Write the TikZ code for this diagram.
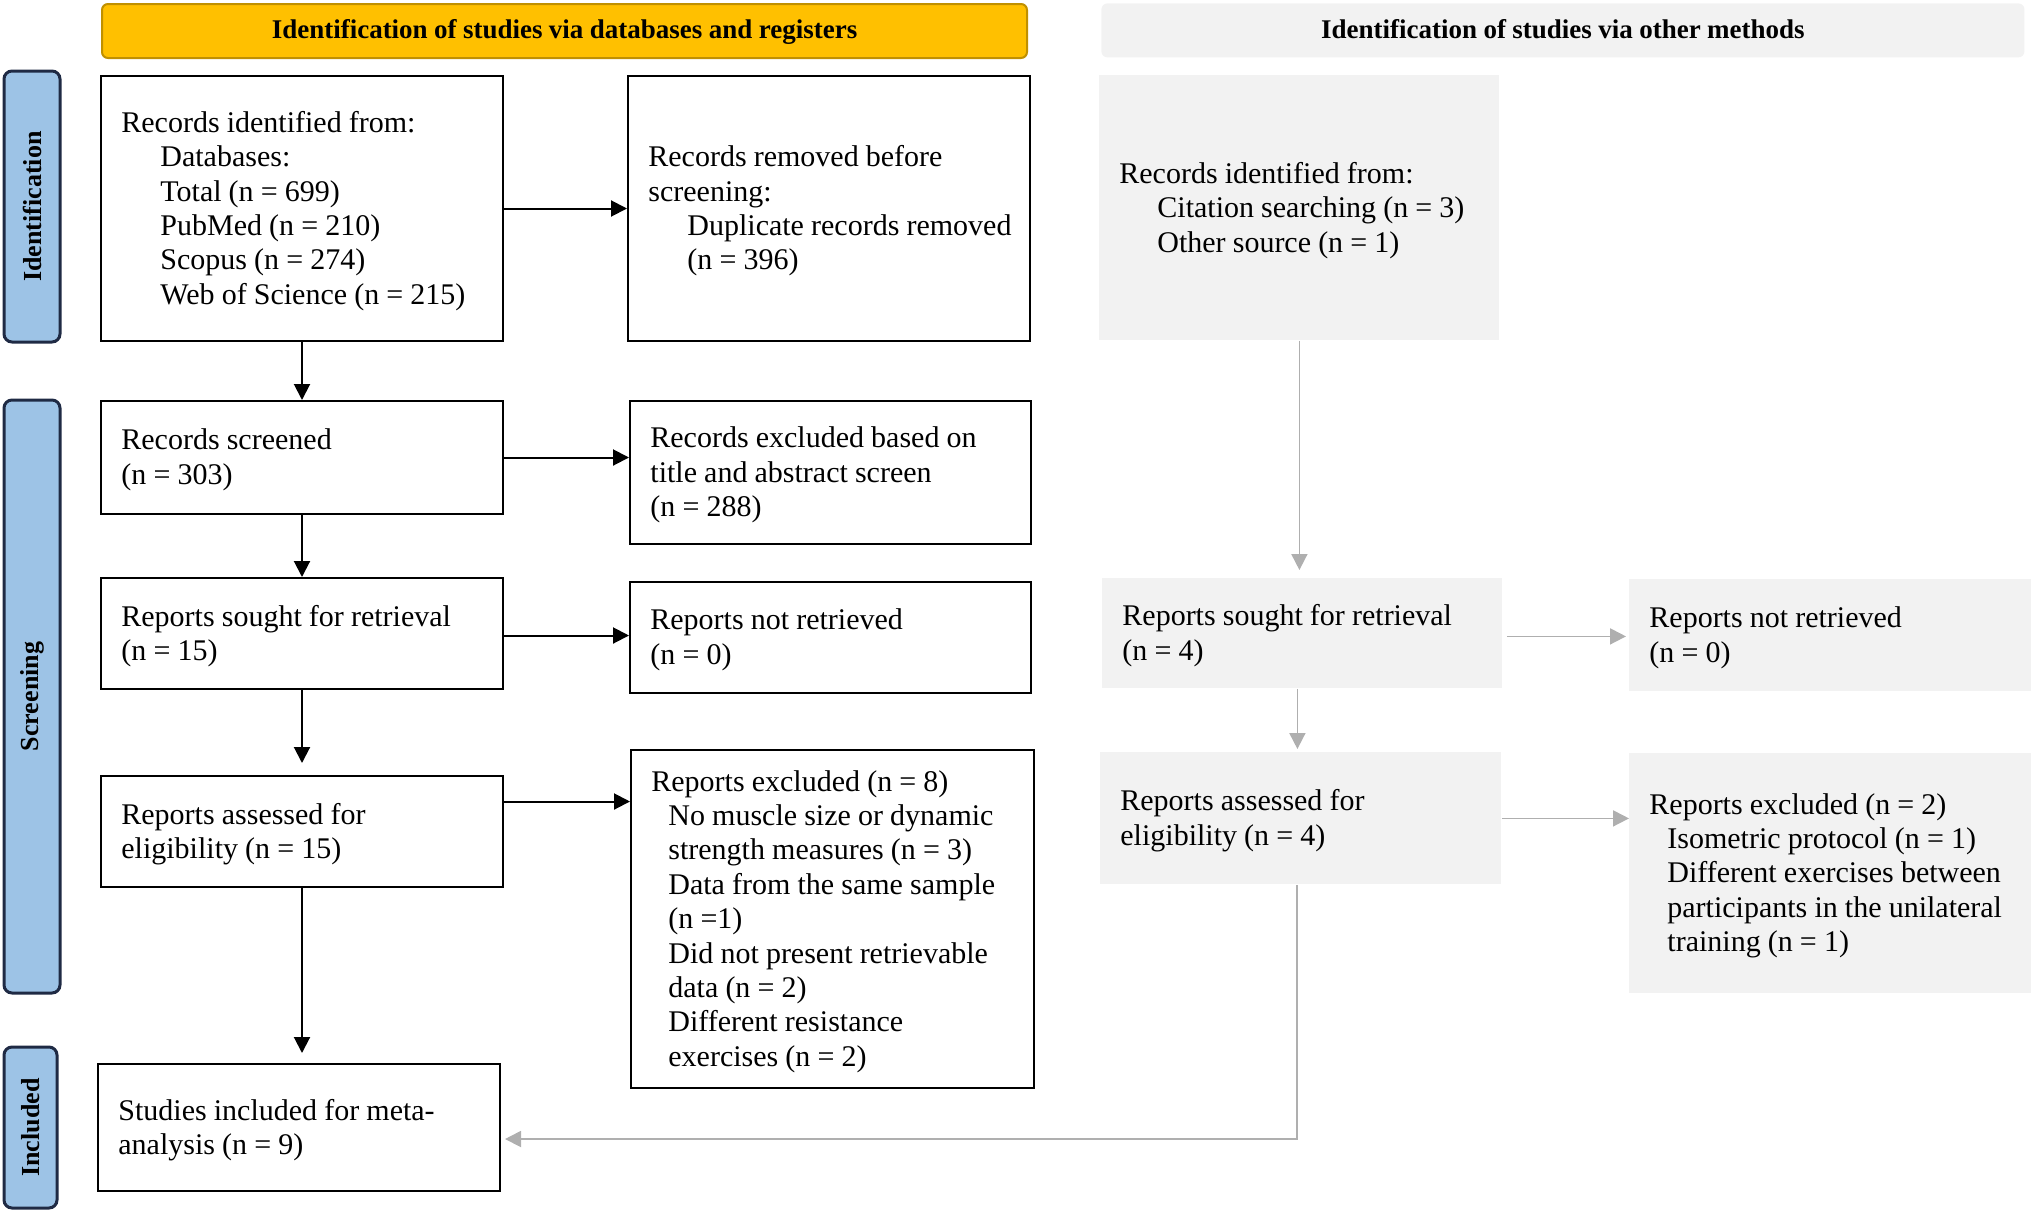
\documentclass[tikz,border=0pt]{standalone}
\usepackage{fontspec}
\setmainfont[WordSpace=0.95]{Liberation Serif}
\usetikzlibrary{arrows.meta,calc}
\definecolor{hdryellow}{HTML}{FFC000}
\definecolor{hdrborder}{HTML}{C09000}
\definecolor{sideblue}{HTML}{9DC3E6}
\definecolor{sideborder}{HTML}{1F2A44}
\definecolor{boxgrey}{HTML}{F2F2F2}
\definecolor{arrgrey}{HTML}{AFAFAF}
\begin{document}
\begin{tikzpicture}[x=0.5pt,y=-0.5pt,
  lab/.style={font=\fontsize{15}{17.2}\selectfont, align=left, anchor=west, inner sep=0pt, yshift=-1.2pt},
  lbox/.style={draw=black, line width=1pt, anchor=north west, inner sep=0pt},
  gbox/.style={fill=boxgrey, anchor=north west, inner sep=0pt},
  hdr/.style={font=\fontsize{13.5}{15}\selectfont\bfseries, anchor=north west, rounded corners=3pt, minimum height=27pt, inner sep=0pt, text height=10pt, text depth=2pt},
  side/.style={font=\fontsize{13}{15}\selectfont\bfseries, fill=sideblue, draw=sideborder, line width=1.5pt, rounded corners=4pt, rotate=90, inner sep=0pt},
  arr/.style={draw=black, line width=1pt, -{Triangle[length=8pt,width=8pt]}},
  garr/.style={draw=arrgrey, line width=0.9pt, -{Triangle[length=8pt,width=8pt]}}
]
\useasboundingbox (0,0) rectangle (2032,1210);

% headers
\node[hdr, fill=hdryellow, draw=hdrborder, line width=1pt, minimum width=462.5pt] (H1) at (101,3) {Identification of studies via databases and registers};
\node[hdr, fill=boxgrey, minimum width=461.5pt] (H2) at (1101,3) {Identification of studies via other methods};

% side labels
\node[side, minimum width=135.5pt, minimum height=28pt] (S1) at (32,206.5) {Identification};
\node[side, minimum width=296.5pt, minimum height=28pt] (S2) at (32,696.5) {Screening};
\node[side, minimum width=80.5pt, minimum height=26.5pt] (S3) at (30.5,1127.5) {Included};

% left column boxes
\node[lbox, minimum width=201pt, minimum height=132.5pt] (A1) at (100,75) {};
\node[lbox, minimum width=201pt, minimum height=132.5pt] (A2) at (627,75) {};
\node[lbox, minimum width=201pt, minimum height=56.5pt] (B1) at (100,400) {};
\node[lbox, minimum width=200.5pt, minimum height=71.5pt] (B2) at (629,400) {};
\node[lbox, minimum width=201pt, minimum height=55.5pt] (C1) at (100,577) {};
\node[lbox, minimum width=200.5pt, minimum height=55.5pt] (C2) at (629,581) {};
\node[lbox, minimum width=201pt, minimum height=55.5pt] (D1) at (100,775) {};
\node[lbox, minimum width=201.5pt, minimum height=169pt] (D2) at (630,749) {};
\node[lbox, minimum width=201pt, minimum height=63.5pt] (E1) at (97,1063) {};

% right column boxes
\node[gbox, minimum width=200pt, minimum height=132.5pt] (R1) at (1099,75) {};
\node[gbox, minimum width=200pt, minimum height=55pt] (R2) at (1102,578) {};
\node[gbox, minimum width=201pt, minimum height=56pt] (R3) at (1629,579) {};
\node[gbox, minimum width=200.5pt, minimum height=66pt] (R4) at (1100,752) {};
\node[gbox, minimum width=201pt, minimum height=120pt] (R5) at (1629,753) {};

% texts
\node[lab] (A1t) at ([xshift=10.5pt]A1.west) {Records identified from:\\\hspace*{19.5pt}Databases:\\\hspace*{19.5pt}Total (n = 699)\\\hspace*{19.5pt}PubMed (n = 210)\\\hspace*{19.5pt}Scopus (n = 274)\\\hspace*{19.5pt}Web of Science (n = 215)};
\node[lab] (A2t) at ([xshift=10.5pt]A2.west) {Records removed before\\screening:\\\hspace*{19.5pt}Duplicate records removed\\\hspace*{19.5pt}(n = 396)};
\node[lab] (B1t) at ([xshift=10.5pt]B1.west) {Records screened\\(n = 303)};
\node[lab] (B2t) at ([xshift=10.5pt]B2.west) {Records excluded based on\\title and abstract screen\\(n = 288)};
\node[lab] (C1t) at ([xshift=10.5pt]C1.west) {Reports sought for retrieval\\(n = 15)};
\node[lab] (C2t) at ([xshift=10.5pt]C2.west) {Reports not retrieved\\(n = 0)};
\node[lab] (D1t) at ([xshift=10.5pt]D1.west) {Reports assessed for\\eligibility (n = 15)};
\node[lab] (D2t) at ([xshift=10.5pt]D2.west) {Reports excluded (n = 8)\\\hspace*{8.5pt}No muscle size or dynamic\\\hspace*{8.5pt}strength measures (n = 3)\\\hspace*{8.5pt}Data from the same sample\\\hspace*{8.5pt}(n =1)\\\hspace*{8.5pt}Did not present retrievable\\\hspace*{8.5pt}data (n = 2)\\\hspace*{8.5pt}Different resistance\\\hspace*{8.5pt}exercises (n = 2)};
\node[lab] (E1t) at ([xshift=10.5pt]E1.west) {Studies included for meta-\\analysis (n = 9)};
\node[lab] (R1t) at ([xshift=10pt]R1.west) {Records identified from:\\\hspace*{19pt}Citation searching (n = 3)\\\hspace*{19pt}Other source (n = 1)};
\node[lab] (R2t) at ([xshift=10pt]R2.west) {Reports sought for retrieval\\(n = 4)};
\node[lab] (R3t) at ([xshift=10pt]R3.west) {Reports not retrieved\\(n = 0)};
\node[lab] (R4t) at ([xshift=10pt]R4.west) {Reports assessed for\\eligibility (n = 4)};
\node[lab] (R5t) at ([xshift=10pt]R5.west) {Reports excluded (n = 2)\\\hspace*{9pt}Isometric protocol (n = 1)\\\hspace*{9pt}Different exercises between\\\hspace*{9pt}participants in the unilateral\\\hspace*{9pt}training (n = 1)};

% black arrows
\draw[arr] (A1.east) -- (A2.west);
\draw[arr] (A1.south) -- (A1.south |- B1.north);
\draw[arr] (B1.east) -- (B1.east -| B2.west);
\draw[arr] (B1.south) -- (B1.south |- C1.north);
\draw[arr] ([yshift=-1pt]C1.east) -- ([yshift=-1pt]C1.east -| C2.west);
\draw[arr] (C1.south) -- ([yshift=6pt]C1.south |- D1.north);
\draw[arr] ([yshift=15pt]D1.east) -- ([yshift=15pt]D1.east -| D2.west);
\draw[arr] (D1.south) -- ([yshift=5pt]D1.south |- E1.north);

% grey arrows
\draw[garr] (R1.south) -- ([yshift=4pt]R1.south |- R2.north);
\draw[garr, shorten <=2pt, shorten >=1.5pt] ([yshift=-1.5pt]R2.east) -- ([yshift=-1.5pt]R2.east -| R3.west);
\draw[garr] ([xshift=-2.5pt]R2.south) -- ([xshift=-2.5pt,yshift=1.5pt]R2.south |- R4.north);
\draw[garr] (R4.east) -- (R4.east -| R5.west);
\draw[garr] ([xshift=-2pt]R4.south) |- ([yshift=-5.75pt,xshift=2pt]E1.east);
\end{tikzpicture}
\end{document}
